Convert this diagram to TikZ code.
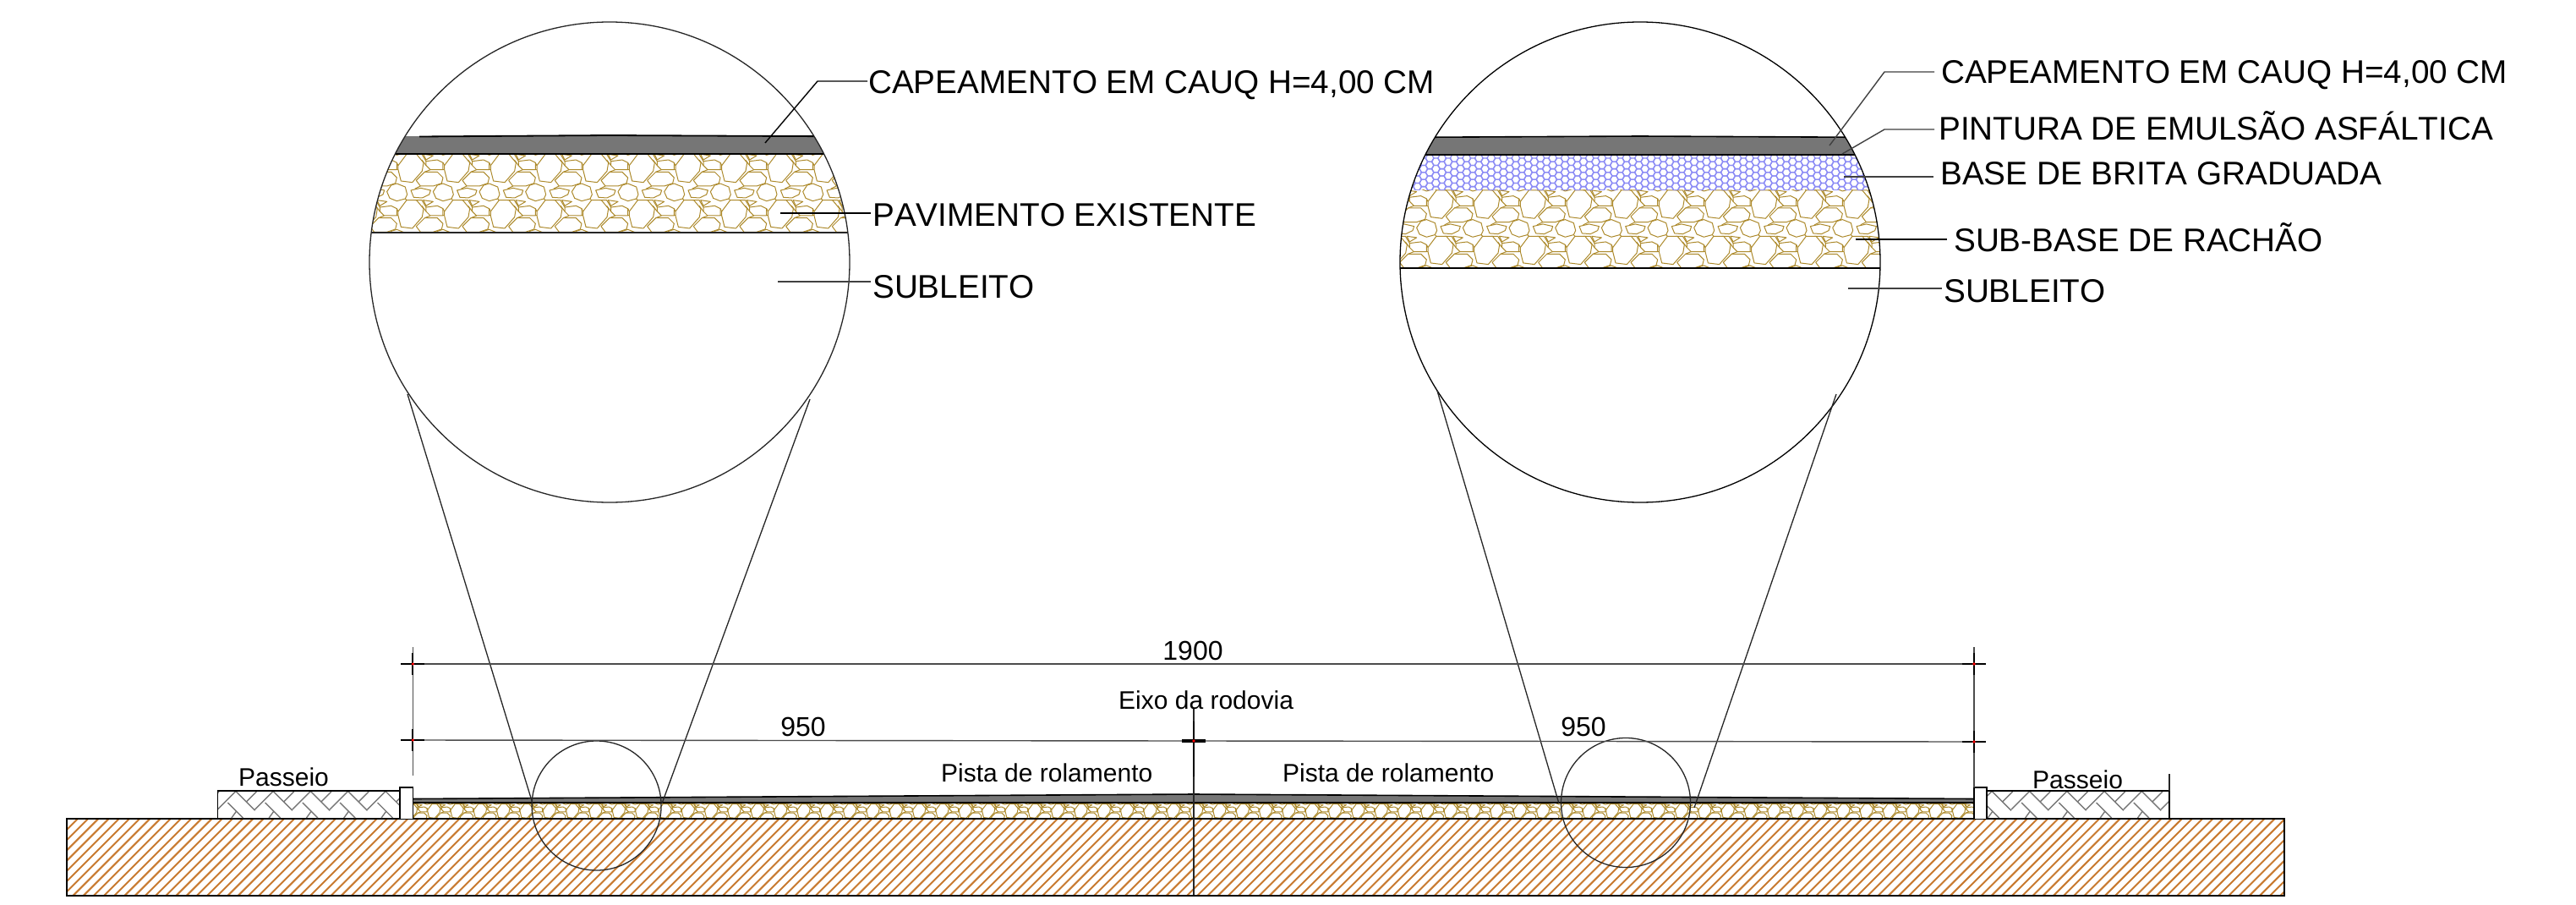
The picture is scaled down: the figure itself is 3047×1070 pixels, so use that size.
\documentclass[tikz,border=0pt]{standalone}
\usepackage{fontspec}
\setmainfont{Liberation Sans}
\newfontfamily\nokernfont[Kerning=Off]{Liberation Sans}
\definecolor{stonec}{HTML}{AD8A2C}
\definecolor{hatchc}{HTML}{C87A30}
\definecolor{hexc}{HTML}{8C8CF5}
\definecolor{asph}{HTML}{767676}
\definecolor{pavec}{HTML}{777777}
\newcommand\stonecell{%
 \draw[stoneline] (135,185)--(170,185)--(195,215)--(190,245)--(155,285)--(115,280)--(105,240)--(105,225)--cycle;
 \draw[stoneline] (80,132)--(100,126)--(130,138)--(137,165)--(130,180)--(100,188)--(75,178)--(65,155)--cycle;
 \draw[stoneline] (150,150)--(185,142)--(220,150)--(215,165)--(190,177)--(160,175)--cycle;
 \draw[stoneline] (5,115)--(35,85)--(80,85)--(100,105)--(95,125)--(65,135)--(20,135)--cycle;
 \draw[stoneline] (40,210)--(80,205)--(100,215)--(100,240)--(55,240)--(40,225)--cycle;
 \draw[stoneline] (30,185)--(65,190)--(40,205)--cycle;
 \draw[stoneline] (0,185)--(25,185)--(40,210);
 \draw[stoneline] (40,225)--(25,205);
 \draw[stoneline] (55,240)--(35,248);
 \draw[stoneline] (100,215)--(105,225);
 \draw[stoneline] (100,240)--(105,240);
 \draw[stoneline] (130,180)--(135,185);
 \draw[stoneline] (20,135)--(0,145);
}
\newcommand\hexcell{%
 \draw[hexline] (4.85,0)--(2.425,4.2)--(-2.425,4.2)--(-4.85,0)--(-2.425,-4.2)--(2.425,-4.2)--cycle;
}
\newcommand\pavecell{%
 \draw[paveline] (22,0)--(0,22);
 \draw[paveline] (12,14)--(30,32);
 \draw[paveline] (21,0)--(44.3,23.3);
 \draw[paveline] (34.3,12.7)--(46,1);
 \draw[paveline] (22.4,24)--(16.6,32);
}
\tikzset{
 stoneline/.style={draw=stonec,line width=1pt,line join=round},
 hexline/.style={draw=hexc,line width=1.3pt},
 paveline/.style={draw=pavec,line width=1.4pt},
 hatchline/.style={draw=hatchc,line width=2pt},
 thinline/.style={draw=black!85,line width=1.3pt},
 leader/.style={draw=black!75,line width=1.4pt},
 bigtext/.style={anchor=base west,inner sep=0pt,font=\nokernfont\fontsize{38.7}{46}\selectfont},
 smalltext/.style={anchor=base west,inner sep=0pt,font=\fontsize{30}{36}\selectfont},
 dimtext/.style={anchor=base,inner sep=0pt,font=\fontsize{32}{38}\selectfont},
 roundc/.style={circle,draw=black!85,line width=1.3pt,inner sep=0pt},
 dimline/.style={draw=black!70,line width=1.4pt},
 crosstick/.style={draw=black,line width=2.2pt},
 redspot/.style={fill=red},
}
\begin{document}
\begin{tikzpicture}[x=1pt,y=-1pt]
\useasboundingbox (0,0) rectangle (3047,1070);
\fill[white] (0,0) rectangle (3047,1070);

% ---- ground hatch
\begin{scope}
 \clip (79,968) rectangle (2702,1059);
 \foreach \k in {0,...,225}{
  \pgfmathsetmacro{\cc}{1035.6+\k*12.2}
  \draw[hatchline] ({\cc-960},960)--({\cc-1065},1065);
 }
\end{scope}
\draw[thinline,draw=black] (79,968) rectangle (2702,1059);

% ---- road stones
\begin{scope}
 \clip (489,949) rectangle (2335,968);
 \foreach \i in {-1,...,68}{
  \begin{scope}[shift={({488.4+\i*27.33},{949-175/6})},x=0.16667pt,y=-0.16667pt]
   \stonecell
  \end{scope}
  \begin{scope}[shift={({488.4+\i*27.33},{949-175/6+27.17})},x=0.16667pt,y=-0.16667pt]
   \stonecell
  \end{scope}
  \begin{scope}[shift={({488.4+\i*27.33},{949-175/6-27.17})},x=0.16667pt,y=-0.16667pt]
   \stonecell
  \end{scope}
 }
\end{scope}
% ---- road asphalt
\fill[asph] (489,944.5)--(1412,939)--(2335,944.5)--(2335,949)--(489,949)--cycle;
\draw[draw=black,line width=1.6pt] (489,944.5)--(1412,939)--(2335,944.5);
\draw[draw=black,line width=1.8pt] (489,949.3)--(2335,949.3);
\draw[draw=black,line width=1.4pt] (489,968)--(2335,968);

% ---- sidewalks
\begin{scope}
 \clip (257.5,935) rectangle (473,968);
 \foreach \i in {-1,...,5}{
  \begin{scope}[shift={({257.3+\i*44.3},935)}]
   \pavecell
  \end{scope}
 }
\end{scope}
\begin{scope}
 \clip (2350,935) rectangle (2566,968);
 \foreach \i in {0,...,6}{
  \begin{scope}[shift={({2334.7+\i*44.3},935)}]
   \pavecell
  \end{scope}
 }
\end{scope}
\draw[thinline,draw=black] (257.5,968)--(257.5,935)--(473,935);
\draw[thinline,draw=black] (2350,935)--(2566,935)--(2566,968);
\draw[thinline] (2566,935)--(2566,915);
\draw[thinline,draw=black,fill=white] (473,968)--(473,931)--(488.6,931)--(488.6,968);
\draw[thinline,draw=black,fill=white] (2335,968)--(2335,931)--(2350,931)--(2350,968);

% ---- inset 1
\begin{scope}
 \clip (721,310) circle[radius=284pt];
 \begin{scope}
  \clip (400,182) rectangle (1040,275);
  \foreach \i in {-4,...,7}{
   \foreach \j in {-2,...,1}{
    \begin{scope}[shift={({600+\i*54.67},{175+\j*54.33})},x=0.33333pt,y=-0.33333pt]
     \stonecell
    \end{scope}
   }
  }
 \end{scope}
 \fill[asph] (400,161.5)--(721,160)--(1040,161.5)--(1040,182)--(400,182)--cycle;
 \draw[draw=black,line width=1.8pt] (496,161.5)--(721,160)--(1040,161.5);
 \draw[draw=black,line width=2.6pt] (400,182)--(1040,182);
 \draw[thinline] (400,275)--(1040,275);
\end{scope}
\node[roundc,minimum size=568pt] (bigone) at (721,310) {};

% ---- inset 2
\begin{scope}
 \clip (1940,310) circle[radius=284pt];
 \begin{scope}
  \clip (1640,224) rectangle (2240,317);
  \foreach \i in {0,...,11}{
   \foreach \j in {-1,...,2}{
    \begin{scope}[shift={({1654+\i*54.67-54.67},{217.6+\j*54.33-54.33})},x=0.33333pt,y=-0.33333pt]
     \stonecell
    \end{scope}
   }
  }
 \end{scope}
 \begin{scope}
  \clip (1640,183) rectangle (2240,224);
  \foreach \i in {0,...,75}{
   \foreach \j in {0,...,6}{
    \pgfmathsetmacro{\hy}{187+\j*8.4+mod(\i,2)*4.2}
    \begin{scope}[shift={({1662+\i*7.275},\hy)}]
     \hexcell
    \end{scope}
   }
  }
 \end{scope}
 \fill[asph] (1640,162.5)--(1940,161)--(2240,162.5)--(2240,183)--(1640,183)--cycle;
 \draw[draw=black,line width=1.6pt] (1640,162.5)--(1940,161)--(2240,162.5);
 \draw[draw=black,line width=2.2pt] (1640,183)--(2240,183);
 \draw[draw=black,line width=1.4pt] (1640,317)--(2240,317);
\end{scope}
\node[roundc,draw=black,minimum size=568pt] (bigtwo) at (1940,310) {};

% ---- small circles
\node[roundc,minimum size=153pt] (smallone) at (705.6,952.5) {};
\node[roundc,minimum size=153pt] (smalltwo) at (1923,949) {};

% ---- zoom cone lines
\coordinate (cA1) at (482,466); \coordinate (cA2) at (630,950);
\coordinate (cB1) at (958,472); \coordinate (cB2) at (783,950);
\coordinate (cC1) at (1700,462); \coordinate (cC2) at (1844,950);
\coordinate (cD1) at (2172,466); \coordinate (cD2) at (2004,955);
\draw[thinline] (cA1)--(cA2);
\draw[thinline] (cB1)--(cB2);
\draw[thinline] (cC1)--(cC2);
\draw[thinline] (cD1)--(cD2);

% ---- dimensions
\coordinate (dL1) at (488.3,785); \coordinate (dL2) at (488.3,875);
\coordinate (dC) at (1412,876);
\coordinate (dR1) at (2335,785); \coordinate (dR2) at (2335,877);
\draw[dimline] (dL1)--(dR1);
\draw[dimline] (dL2)--(dC);
\draw[dimline] (dC)--(dR2);
\draw[dimline] (488.3,765)--(488.3,917);
\draw[dimline] (2335,765)--(2335,931);
\draw[thinline] (1412,838)--(1412,1058);
\draw[crosstick,line width=1.8pt] (1412,853)--(1412,918);
\draw[crosstick,line width=4pt] (1398,876)--(1426,876);
\foreach \p in {dL1,dL2,dC,dR1,dR2}{
 \draw[crosstick] ([xshift=-14pt]\p)--([xshift=14pt]\p);
 \draw[crosstick,line width=1.8pt] ([yshift=-13pt]\p)--([yshift=13pt]\p);
 \fill[redspot] (\p) circle[radius=1.8pt];
}
\node[dimtext] (d1900) at (1411,780.5) {1900};
\node[dimtext] (d950a) at (950,870) {950};
\node[dimtext] (d950b) at (1873,870) {950};

% ---- section labels
\node[smalltext] (eixo) at (1323,838) {Eixo da rodovia};
\node[smalltext] (pistaa) at (1113,924) {Pista de rolamento};
\node[smalltext] (pistab) at (1517,924) {Pista de rolamento};
\node[smalltext] (passa) at (282,929) {Passeio};
\node[smalltext] (passb) at (2404,932) {Passeio};

% ---- inset labels
\node[bigtext] (ta) at (1027,111) {CAPEAMENTO EM CAUQ H=4,00 CM};
\node[bigtext] (tb) at (1032,267) {PAVIMENTO EXISTENTE};
\node[bigtext] (tc) at (1032,352) {SUBLEITO};
\node[bigtext] (td) at (2296,99) {CAPEAMENTO EM CAUQ H=4,00 CM};
\node[bigtext] (te) at (2293,165) {PINTURA DE EMULSÃO ASFÁLTICA};
\node[bigtext] (tf) at (2295,218) {BASE DE BRITA GRADUADA};
\node[bigtext] (tg) at (2311,297) {SUB-BASE DE RACHÃO};
\node[bigtext] (th) at (2299,357) {SUBLEITO};

% ---- leaders
\coordinate (la1) at (905,169); \coordinate (la2) at (967,96); \coordinate (la3) at (1026,96);
\draw[leader,draw=black] (la1)--(la2)--(la3);
\coordinate (lb1) at (923,252); \coordinate (lb2) at (1030,252);
\draw[leader,draw=black] (lb1)--(lb2);
\coordinate (lc1) at (920,333); \coordinate (lc2) at (1030,333);
\draw[leader] (lc1)--(lc2);
\coordinate (ld1) at (2164,172); \coordinate (ld2) at (2229,85); \coordinate (ld3) at (2288,85);
\draw[leader] (ld1)--(ld2)--(ld3);
\coordinate (le1) at (2179,182); \coordinate (le2) at (2229,153); \coordinate (le3) at (2288,153);
\draw[leader] (le1)--(le2)--(le3);
\coordinate (lf1) at (2181,209); \coordinate (lf2) at (2287,209);
\draw[leader] (lf1)--(lf2);
\coordinate (lg1) at (2195,283); \coordinate (lg2) at (2303,283);
\draw[leader,draw=black] (lg1)--(lg2);
\coordinate (lh1) at (2186,341); \coordinate (lh2) at (2297,341);
\draw[leader] (lh1)--(lh2);
\end{tikzpicture}
\end{document}
